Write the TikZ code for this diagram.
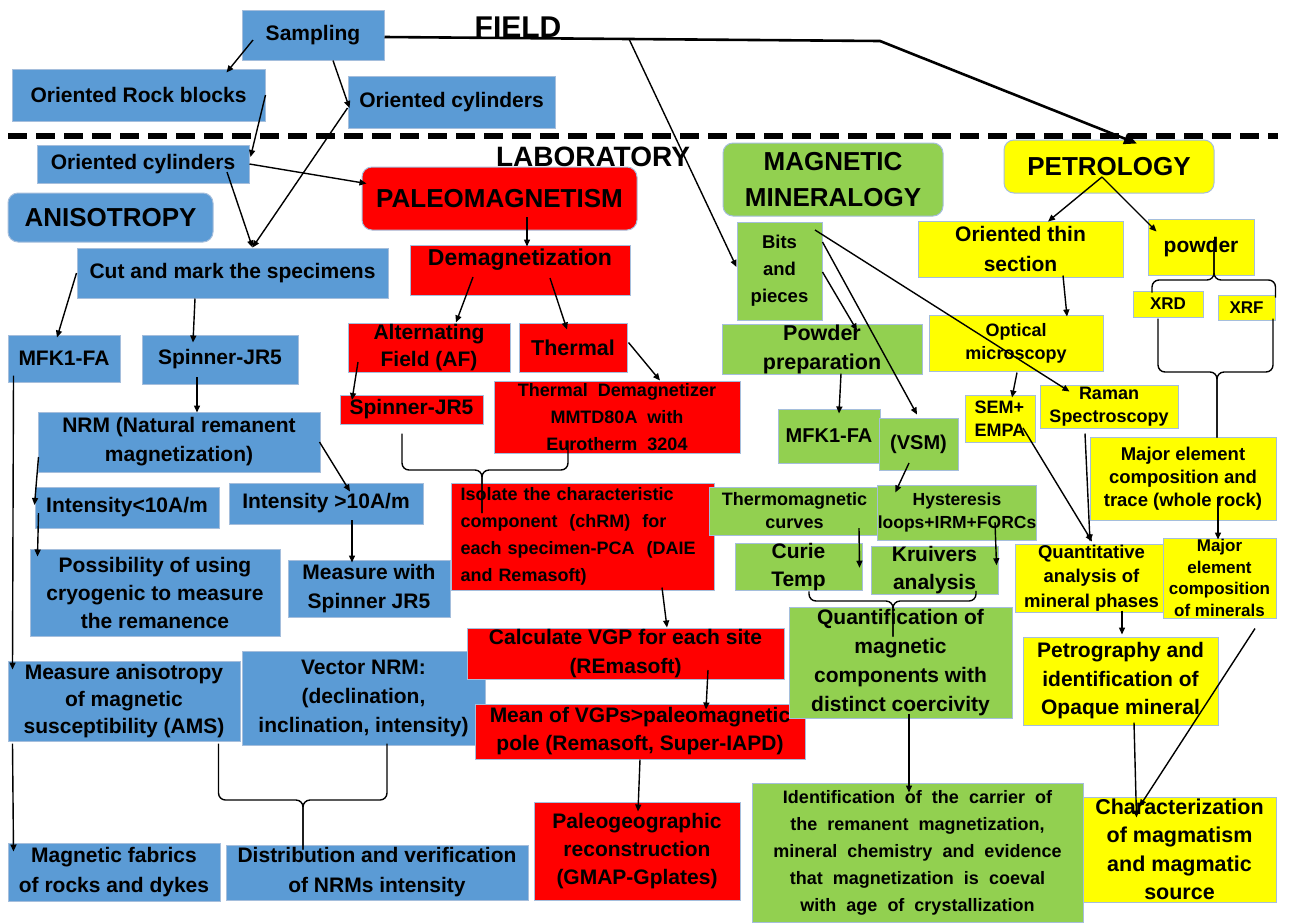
\documentclass[tikz,border=0pt]{standalone}
\usepackage{fontspec}
\setmainfont{Liberation Sans}
\usetikzlibrary{arrows.meta,positioning,calc}
\definecolor{boxBlue}{RGB}{91,155,213}
\definecolor{boxRed}{RGB}{255,0,0}
\definecolor{boxGreen}{RGB}{146,208,80}
\definecolor{boxYellow}{RGB}{255,255,0}
\definecolor{boxEdge}{RGB}{165,190,220}

\begin{document}
\begin{tikzpicture}[x=1pt,y=-1pt,
  box/.style={draw=boxEdge,line width=1pt,inner sep=0pt,align=center,
    font=\bfseries\fontsize{21}{28}\selectfont},
  fs/.style 2 args={font=\bfseries\fontsize{#1}{#2}\selectfont},
  wh/.style 2 args={minimum width=#1,minimum height=#2},
  bluebox/.style={box,fill=boxBlue},
  redbox/.style={box,fill=boxRed},
  greenbox/.style={box,fill=boxGreen},
  yellowbox/.style={box,fill=boxYellow},
  headbox/.style={rounded corners=10pt,fs={26}{36}},
  arr/.style={line width=1.4pt,-{Triangle[length=7pt,width=6pt]}},
  brace/.style={line width=1.4pt,rounded corners=7pt}]
  \useasboundingbox[fill=white] (0,0) rectangle (1290,922);

  % field / laboratory
  \node[fs={30}{32}] (fieldL) at (518,27) {FIELD};
  \draw[line width=6pt,dash pattern=on 19pt off 9pt] (8,136) -- (1278,136);
  \node[fs={28}{30}] (labL) at (593,157) {LABORATORY};

  % anisotropy column (blue)
  \node[bluebox,wh={142}{50}] (samp) at (313,35) {Sampling};
  \node[bluebox,wh={253}{52}] (rock) at (138.5,95) {Oriented Rock blocks};
  \node[bluebox,wh={207}{52}] (cylT) at (451.5,102) {Oriented cylinders};
  \node[bluebox,wh={212}{38}] (cylL) at (143,164) {Oriented cylinders};
  \node[bluebox,headbox,wh={205}{49}] (aniso) at (110.5,217.5) {ANISOTROPY};
  \node[bluebox,wh={311}{50}] (cut) at (232.5,273) {Cut and mark the specimens};
  \node[bluebox,wh={112}{47}] (mfkB) at (64,358.5) {MFK1-FA};
  \node[bluebox,wh={156}{49}] (spinB) at (220,359.5) {Spinner-JR5};
  \node[bluebox,wh={282}{60},fs={21}{29}] (nrm) at (179,442) {NRM (Natural remanent\\magnetization)};
  \node[bluebox,wh={184}{41}] (intlo) at (127,507.5) {Intensity<10A/m};
  \node[bluebox,wh={194}{41}] (inthi) at (326,503.5) {Intensity >10A/m};
  \node[bluebox,wh={250}{87}] (cryo) at (155,592.5) {Possibility of using\\cryogenic to measure\\the remanence};
  \node[bluebox,wh={162}{57},fs={21}{29}] (meas) at (369,588.5) {Measure with\\Spinner JR5};
  \node[bluebox,wh={232}{80},fs={21}{27}] (ams) at (124,701) {Measure anisotropy\\of magnetic\\susceptibility (AMS)};
  \node[bluebox,wh={243}{94},fs={21}{29}] (vec) at (363.5,698) {Vector NRM:\\(declination,\\inclination, intensity)};
  \node[bluebox,wh={212}{58},fs={21}{30}] (fab) at (114,872) {Magnetic fabrics\\of rocks and dykes};
  \node[bluebox,wh={302}{55},fs={21}{30}] (dist) at (377,872.5) {Distribution and verification\\of NRMs intensity};

  % paleomagnetism (red)
  \node[redbox,headbox,wh={275}{63}] (paleo) at (499.5,198.5) {PALEOMAGNETISM};
  \node[redbox,wh={220}{50},fs={23}{28},text depth=26pt] (demag) at (520,270) {Demagnetization};
  \node[redbox,wh={162}{49},fs={21}{27}] (af) at (429,347.5) {Alternating\\Field (AF)};
  \node[redbox,wh={108}{49},fs={21.5}{28}] (therm) at (573,347.5) {Thermal};
  \node[redbox,wh={143}{29}] (spinR) at (411.5,409.5) {Spinner-JR5};
  \node[redbox,wh={246}{72},fs={18}{27}] (tdem) at (617,417) {Thermal~~Demagnetizer\\MMTD80A~~with\\Eurotherm~~3204};
  \node[redbox,wh={263}{107},fs={18}{27},align=left,text width=244pt] (iso) at (582.5,536.5)
    {Isolate the characteristic\\component~ (chRM)~ for\\each specimen-PCA~ (DAIE\\and Remasoft)};
  \node[redbox,wh={317}{51},fs={21}{29}] (vgp) at (625.5,653.5) {Calculate VGP for each site\\(REmasoft)};
  \node[redbox,wh={330}{55}] (mean) at (640,731.5) {Mean of VGPs>paleomagnetic\\pole (Remasoft, Super-IAPD)};
  \node[redbox,wh={206}{98}] (pgeo) at (637,851) {Paleogeographic\\reconstruction\\(GMAP-Gplates)};

  % magnetic mineralogy (green)
  \node[greenbox,headbox,wh={220}{73}] (magmin) at (833,179.5) {MAGNETIC\\MINERALOGY};
  \node[greenbox,wh={85}{98},fs={18.5}{27}] (bits) at (779.5,271) {Bits\\and\\pieces};
  \node[greenbox,wh={200}{47},fs={21.5}{29}] (pprep) at (822,349.5) {Powder\\preparation};
  \node[greenbox,wh={102}{54},fs={20}{26}] (mfkG) at (829,436) {MFK1-FA};
  \node[greenbox,wh={79}{52},fs={20}{26}] (vsm) at (918.5,444) {(VSM)};
  \node[greenbox,wh={171}{48},fs={18}{23}] (tmc) at (794.5,511) {Thermomagnetic\\curves};
  \node[greenbox,wh={156}{55},fs={17.5}{23}] (hyst) at (957,512.5) {Hysteresis\\loops+IRM+FORCs};
  \node[greenbox,wh={127}{40}] (curie) at (798.5,567) {Curie\\Temp};
  \node[greenbox,wh={127}{43}] (kruiv) at (934.5,570.5) {Kruivers\\analysis};
  \node[greenbox,wh={223}{111},fs={21}{29}] (quant) at (900.5,662.5) {Quantification of\\magnetic\\components with\\distinct coercivity};
  \node[greenbox,wh={331}{139},fs={18}{27}] (ident) at (917.5,852.5) {Identification~ of~ the~ carrier~ of\\the~ remanent~ magnetization,\\mineral~ chemistry~ and~ evidence\\that~ magnetization~ is~ coeval\\with~ age~ of~ crystallization};

  % petrology (yellow)
  \node[yellowbox,headbox,wh={210}{53}] (petro) at (1109,166.5) {PETROLOGY};
  \node[yellowbox,wh={205}{56},fs={21}{30}] (thin) at (1020.5,249) {Oriented thin\\section};
  \node[yellowbox,wh={106}{56}] (powd) at (1201,247) {powder};
  \node[yellowbox,wh={70}{26},fs={17}{20}] (xrd) at (1168,304) {XRD};
  \node[yellowbox,wh={57}{25},fs={17}{20}] (xrf) at (1246.5,307.5) {XRF};
  \node[yellowbox,wh={174}{56},fs={18}{23}] (opt) at (1016,343) {Optical\\microscopy};
  \node[yellowbox,wh={70}{47},fs={18}{23},align=left] (sem) at (1000,418.5) {SEM+\\EMPA};
  \node[yellowbox,wh={138}{43},fs={18}{23}] (raman) at (1109,406.5) {Raman\\Spectroscopy};
  \node[yellowbox,wh={186}{83},fs={18.5}{23}] (majw) at (1183,478.5) {Major element\\composition and\\trace (whole rock)};
  \node[yellowbox,wh={153}{68},fs={18.5}{24.5}] (qam) at (1091.5,578) {Quantitative\\analysis of\\mineral phases};
  \node[yellowbox,wh={113}{80},fs={17}{21.5}] (majm) at (1219.5,578) {Major\\element\\composition\\of minerals};
  \node[yellowbox,wh={195}{88},fs={21}{28.5}] (petrog) at (1120.5,681) {Petrography and\\identification of\\Opaque mineral};
  \node[yellowbox,wh={193}{105},fs={21.5}{28.5}] (charac) at (1179.5,849.5) {Characterization\\of magmatism\\and magmatic\\source};

  % sampling and the long field line
  \coordinate (forkB) at (629,39);
  \coordinate (bendP) at (880,41);
  \draw[line width=2.6pt,-{Triangle[length=13pt,width=11pt]}] ([shift={(0,2)}]samp.east) -- (forkB) -- (bendP) -- ([shift={(28,4)}]petro.north);
  \draw[arr] (forkB) -- ([shift={(0,-4)}]bits.west);
  \draw[arr] ([shift={(-60,5)}]samp.center) -- ([shift={(88,4)}]rock.north);
  \draw[arr] ([shift={(20,0)}]samp.south) -- ([shift={(2,6)}]cylT.west);
  \draw[arr] (rock.east) -- ([shift={(1,-7)}]cylL.east);
  \draw[arr] ([shift={(0,6)}]cylT.west) -- ([shift={(20,0)}]cut.north);
  \draw[arr] ([shift={(84,8)}]cylL.center) -- ([shift={(20,0)}]cut.north);
  \draw[arr] (cylL.east) -- ([shift={(5,-15)}]paleo.west);

  % anisotropy flow
  \draw[arr] (cut.west) -- ([shift={(-7,3)}]mfkB.north);
  \draw[arr] ([shift={(-37.5,0)}]cut.south) -- ([shift={(-27,8)}]spinB.north);
  \draw[arr] ([shift={(-23,17.5)}]spinB.center) -- ([shift={(18,1)}]nrm.north);
  \draw[arr] ([shift={(1,15)}]nrm.west) -- ([shift={(0,-2.5)}]intlo.west);
  \draw[arr] ([shift={(4,5.5)}]intlo.west) -- ([shift={(8,8)}]cryo.north west);
  \draw[arr] ([shift={(-1,0)}]nrm.east) -- ([shift={(24,9)}]inthi.north);
  \draw[arr] ([shift={(26,16.5)}]inthi.center) -- ([shift={(-17,3)}]meas.north);
  \draw[arr] ([shift={(6,-7)}]mfkB.south west) -- ([shift={(5,9)}]ams.north west);
  \draw[arr] ([shift={(5,2)}]ams.south west) -- ([shift={(6,9)}]fab.north west);
  \coordinate (cuspDist) at (303,800);
  \draw[brace] ([shift={(-22,2)}]ams.south east) |- (cuspDist) -- ([shift={(-74,5)}]dist.north);
  \draw[brace] ([shift={(23.5,-2)}]vec.south) |- (cuspDist) -- ([shift={(-74,5)}]dist.north);

  % paleomagnetism flow
  \draw[arr] ([shift={(27.5,18.5)}]paleo.center) -- ([shift={(7,2)}]demag.north);
  \draw[arr] ([shift={(-47,7)}]demag.center) -- ([shift={(27,0)}]af.north);
  \draw[arr] ([shift={(30,8)}]demag.center) -- ([shift={(-6,7)}]therm.north);
  \draw[arr] ([shift={(1,-5)}]therm.east) -- ([shift={(43,0)}]tdem.north);
  \draw[arr] ([shift={(-71,14.5)}]af.center) -- ([shift={(-59.5,-9.5)}]spinR.center);
  \coordinate (cuspIso) at (482,470);
  \draw[brace] ([shift={(-9.5,9)}]spinR.south) |- (cuspIso) -- ([shift={(-100.5,-23.5)}]iso.center);
  \draw[brace] ([shift={(-49,-13)}]tdem.south) |- (cuspIso) -- ([shift={(-100.5,-23.5)}]iso.center);
  \draw[arr] ([shift={(79.5,-3)}]iso.south) -- ([shift={(41.5,0)}]vgp.north);
  \draw[arr] ([shift={(82.5,16.5)}]vgp.center) -- ([shift={(66,6)}]mean.north);
  \draw[arr] (mean.south) -- ([shift={(1,10)}]pgeo.north);

  % magnetic mineralogy flow
  \draw[arr] ([shift={(35.5,-41)}]bits.center) -- ([shift={(30,7)}]raman.north west);
  \draw[arr] ([shift={(0,-29)}]bits.east) -- ([shift={(-1.5,-3)}]vsm.north);
  \draw[arr] ([shift={(0,1)}]bits.east) -- ([shift={(35,6)}]pprep.north);
  \draw[arr] ([shift={(19,-1)}]pprep.south) -- ([shift={(10,5)}]mfkG.north);
  \draw[arr] ([shift={(-9.5,19)}]vsm.center) -- ([shift={(18,8)}]hyst.north west);
  \draw[arr] ([shift={(64.5,17)}]tmc.center) -- ([shift={(-3,25)}]curie.north east);
  \draw[arr] ([shift={(38,9.5)}]hyst.center) -- ([shift={(-2,19)}]kruiv.north east);
  \coordinate (cuspQ) at (893,601);
  \draw[brace] ([shift={(10.5,0)}]curie.south) |- (cuspQ) -- ([shift={(-7.5,30)}]quant.north);
  \draw[brace] ([shift={(41.5,-4)}]kruiv.south) |- (cuspQ) -- ([shift={(-7.5,30)}]quant.north);
  \draw[arr] ([shift={(8.5,-5)}]quant.south) -- ([shift={(-8.5,10)}]ident.north);

  % petrology flow
  \draw[arr] ([shift={(-7,10.5)}]petro.center) -- ([shift={(27.5,1)}]thin.north);
  \draw[arr] ([shift={(-7,10.5)}]petro.center) -- ([shift={(9,13)}]powd.north west);
  \draw[arr] ([shift={(42.5,-2)}]thin.south) -- ([shift={(51,2)}]opt.north);
  \draw[arr] ([shift={(1,1)}]opt.south) -- ([shift={(12,3)}]sem.north);
  \draw[arr] ([shift={(23,9.5)}]sem.center) -- ([shift={(0.5,-2)}]qam.north);
  \draw[arr] ([shift={(-24,5)}]raman.south) -- ([shift={(-1.5,-2)}]qam.north);
  \coordinate (cuspPow) at (1214,280);
  \draw[brace] ([shift={(-16,2)}]xrd.north) |- (cuspPow) -- ([shift={(13,-7)}]powd.center);
  \draw[brace] ([shift={(0,3)}]xrf.north east) |- (cuspPow) -- ([shift={(13,-7)}]powd.center);
  \coordinate (cuspMaj) at (1217,372);
  \draw[brace] ([shift={(-10,1)}]xrd.south) |- (cuspMaj) -- ([shift={(34,1)}]majw.north);
  \draw[brace] ([shift={(26.5,-2)}]xrf.south) |- (cuspMaj) -- ([shift={(34,1)}]majw.north);
  \draw[arr] ([shift={(35,18.5)}]majw.center) -- ([shift={(-1.5,2)}]majm.north);
  \draw[arr] ([shift={(30.5,-2)}]qam.south) -- ([shift={(1.5,-2)}]petrog.north);
  \draw[arr] ([shift={(35.5,10)}]majm.south) -- ([shift={(57,10)}]charac.north west);
  \draw[arr] ([shift={(13.5,-3)}]petrog.south) -- ([shift={(54,21)}]charac.north west);
\end{tikzpicture}
\end{document}
